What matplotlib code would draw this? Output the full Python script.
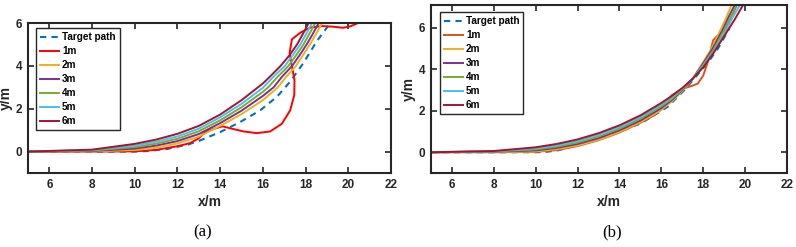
import matplotlib.pyplot as plt

plt.rcParams['font.family'] = ['Liberation Sans', 'DejaVu Sans']
plt.rcParams['font.weight'] = 'bold'

# ---- panel (a) data ----
a_target_x = [5, 8, 10, 10.5, 11.5, 12.5, 13.06, 14.0, 14.94, 15.88, 16.66, 17.28, 17.9, 18.53, 19.0, 19.15]
a_target_y = [0, 0, 0, 0.02, 0.12, 0.33, 0.52, 0.91, 1.38, 1.93, 2.56, 3.27, 4.14, 5.16, 5.79, 6.0]

a_1m_x = [5, 8, 10, 11, 12, 12.6, 13.0, 13.3, 13.7, 14.1, 14.5, 15.1, 15.72, 16.34, 16.89, 17.28,
          17.47, 17.48, 17.36, 17.25, 17.36, 17.75, 18.22, 18.77, 19.3, 19.75, 20.1, 20.5, 20.8]
a_1m_y = [0, 0, 0.01, 0.08, 0.25, 0.4, 0.62, 0.92, 1.06, 1.18, 1.08, 0.94, 0.86, 0.94, 1.3, 1.93,
          2.64, 3.35, 3.98, 4.6, 5.24, 5.55, 5.79, 5.86, 5.83, 5.78, 5.85, 6.02, 6.2]

a_2m_x = [5, 8, 10, 11, 12, 13, 14, 15, 16, 16.7, 17.1, 17.55, 17.88, 18.2, 18.5, 18.77]
a_2m_y = [0, 0.01, 0.07, 0.18, 0.38, 0.7, 1.2, 1.75, 2.4, 3.0, 3.5, 4.0, 4.5, 5.0, 5.5, 6.0]
a_3m_x = [5, 8, 10, 11, 12, 13, 14, 15, 16, 16.5, 16.9, 17.37, 17.72, 18.05, 18.34, 18.61]
a_3m_y = [0, 0.03, 0.14, 0.28, 0.49, 0.82, 1.33, 1.91, 2.6, 3.0, 3.5, 4.0, 4.5, 5.0, 5.5, 6.0]
a_4m_x = [5, 8, 10, 11, 12, 13, 14, 15, 16, 16.25, 16.7, 17.2, 17.56, 17.9, 18.18, 18.45]
a_4m_y = [0, 0.05, 0.21, 0.37, 0.6, 0.95, 1.46, 2.07, 2.79, 3.0, 3.5, 4.0, 4.5, 5.0, 5.5, 6.0]
a_5m_x = [5, 8, 10, 11, 12, 13, 14, 15, 16, 16.5, 17.03, 17.4, 17.75, 18.03, 18.3]
a_5m_y = [0, 0.07, 0.28, 0.46, 0.71, 1.07, 1.6, 2.23, 2.98, 3.5, 4.0, 4.5, 5.0, 5.5, 6.0]
a_6m_x = [5, 8, 10, 11, 12, 13, 14, 15, 16, 16.33, 16.83, 17.25, 17.6, 17.88, 18.14]
a_6m_y = [0, 0.09, 0.36, 0.56, 0.83, 1.2, 1.73, 2.4, 3.18, 3.5, 4.0, 4.5, 5.0, 5.5, 6.0]

# ---- panel (b) data ----
b_target_x = [5, 8, 10, 10.5, 11.1, 12.5, 13.9, 15.0, 16.3, 17.1, 17.5, 18.2, 18.7, 19.25]
b_target_y = [0, 0, 0, 0.02, 0.1, 0.5, 0.98, 1.38, 2.19, 3.0, 3.47, 4.3, 5.0, 5.98]

b_1m_x = [5, 8, 10, 11, 12, 13, 14, 15, 15.6, 16.05, 16.5, 17.0, 17.45, 17.74, 18.0, 18.2, 18.35,
          18.47, 18.7, 19.0, 19.3, 19.6]
b_1m_y = [0, 0, 0.02, 0.1, 0.3, 0.58, 0.95, 1.42, 1.75, 2.1, 2.75, 3.05, 3.2, 3.31, 3.7, 4.3, 4.9,
          5.4, 5.64, 5.85, 6.4, 7.1]
b_2m_x = [5, 8, 10, 11, 12, 13, 14, 15, 16, 16.5, 17, 17.5, 18, 18.4, 18.8, 19.1, 19.35]
b_2m_y = [0, 0.01, 0.04, 0.15, 0.33, 0.6, 0.98, 1.45, 2.05, 2.45, 2.95, 3.55, 4.35, 5.0, 5.85, 6.5, 7.1]
b_3m_x = [5, 8, 10, 11, 12, 13, 14, 15, 16, 16.5, 17, 17.5, 18, 18.45, 18.9, 19.2, 19.5]
b_3m_y = [0, 0.03, 0.09, 0.21, 0.4, 0.68, 1.06, 1.53, 2.13, 2.52, 3.0, 3.55, 4.29, 5.0, 5.85, 6.5, 7.1]
b_4m_x = [5, 8, 10, 11, 12, 13, 14, 15, 16, 16.5, 17, 17.5, 18, 18.5, 18.95, 19.3, 19.6]
b_4m_y = [0, 0.04, 0.14, 0.27, 0.47, 0.76, 1.14, 1.62, 2.22, 2.58, 3.03, 3.55, 4.22, 4.95, 5.8, 6.5, 7.1]
b_5m_x = [5, 8, 10, 11, 12, 13, 14, 15, 16, 16.5, 17, 17.5, 18, 18.5, 19.0, 19.4, 19.75]
b_5m_y = [0, 0.05, 0.19, 0.33, 0.55, 0.84, 1.22, 1.7, 2.3, 2.65, 3.07, 3.55, 4.16, 4.85, 5.7, 6.5, 7.1]
b_6m_x = [5, 8, 10, 11, 12, 13, 14, 15, 16, 16.5, 17, 17.5, 18, 18.5, 19.0, 19.5, 19.9]
b_6m_y = [0, 0.06, 0.24, 0.4, 0.62, 0.92, 1.3, 1.78, 2.38, 2.72, 3.1, 3.55, 4.1, 4.8, 5.6, 6.4, 7.1]

labels = ['1m', '2m', '3m', '4m', '5m', '6m']
colors_a = ['#FF0000', '#EDB120', '#7E2F8E', '#77AC30', '#4DBEEE', '#A2142F']
colors_b = ['#D95319', '#EDB120', '#7E2F8E', '#77AC30', '#4DBEEE', '#A2142F']


def style_axes(ax, ylim, yticks):
    ax.set_xlim(5, 22)
    ax.set_ylim(*ylim)
    ax.set_xticks(range(6, 23, 2))
    ax.set_yticks(yticks)
    ax.tick_params(direction='in', top=True, right=True, length=4, width=1.2,
                   labelsize=8.5, pad=4, color='#262626')
    for lab in ax.get_xticklabels() + ax.get_yticklabels():
        lab.set_fontweight('bold')
        lab.set_color('#262626')
    for s in ax.spines.values():
        s.set_linewidth(1.5)
        s.set_color('#262626')
    ax.set_xlabel('x/m', fontsize=10, fontweight='bold', labelpad=3, color='#262626')
    ax.set_ylabel('y/m', fontsize=10, fontweight='bold', labelpad=2, color='#262626')


def draw_panel(ax, target, series, colors, anchor):
    ax.plot(target[0], target[1], '--', color='#0072BD', lw=1.5, dashes=(3, 2.5),
            label='Target path')
    for (x, y), c, lab in zip(series, colors, labels):
        ax.plot(x, y, '-', color=c, lw=1.4, label=lab)
    leg = ax.legend(loc='upper left', bbox_to_anchor=anchor, borderaxespad=0,
                    prop={'weight': 'bold', 'size': 7.2},
                    handlelength=1.9, handletextpad=0.3, labelspacing=0.4,
                    borderpad=0.4, fancybox=False, framealpha=1)
    leg.get_frame().set_edgecolor('#262626')
    leg.get_frame().set_linewidth(1.0)


fig = plt.figure(figsize=(7.96, 2.47), dpi=100)
ax_a = fig.add_axes([0.0352, 0.2996, 0.456, 0.607])
ax_b = fig.add_axes([0.5415, 0.2996, 0.4472, 0.680])

draw_panel(ax_a, (a_target_x, a_target_y),
           [(a_1m_x, a_1m_y), (a_2m_x, a_2m_y), (a_3m_x, a_3m_y),
            (a_4m_x, a_4m_y), (a_5m_x, a_5m_y), (a_6m_x, a_6m_y)], colors_a, (0.022, 0.967))
style_axes(ax_a, (-1, 6), [0, 2, 4, 6])

draw_panel(ax_b, (b_target_x, b_target_y),
           [(b_1m_x, b_1m_y), (b_2m_x, b_2m_y), (b_3m_x, b_3m_y),
            (b_4m_x, b_4m_y), (b_5m_x, b_5m_y), (b_6m_x, b_6m_y)], colors_b, (0.025, 0.958))
style_axes(ax_b, (-1, 7.1), [0, 2, 4, 6])

fig.text(203 / 796, 1 - 232 / 247, '(a)', fontsize=12, fontweight='normal',
         family='Liberation Serif', ha='center', va='center')
fig.text(612 / 796, 1 - 232 / 247, '(b)', fontsize=12, fontweight='normal',
         family='Liberation Serif', ha='center', va='center')

fig.savefig('out.png', dpi=100)
